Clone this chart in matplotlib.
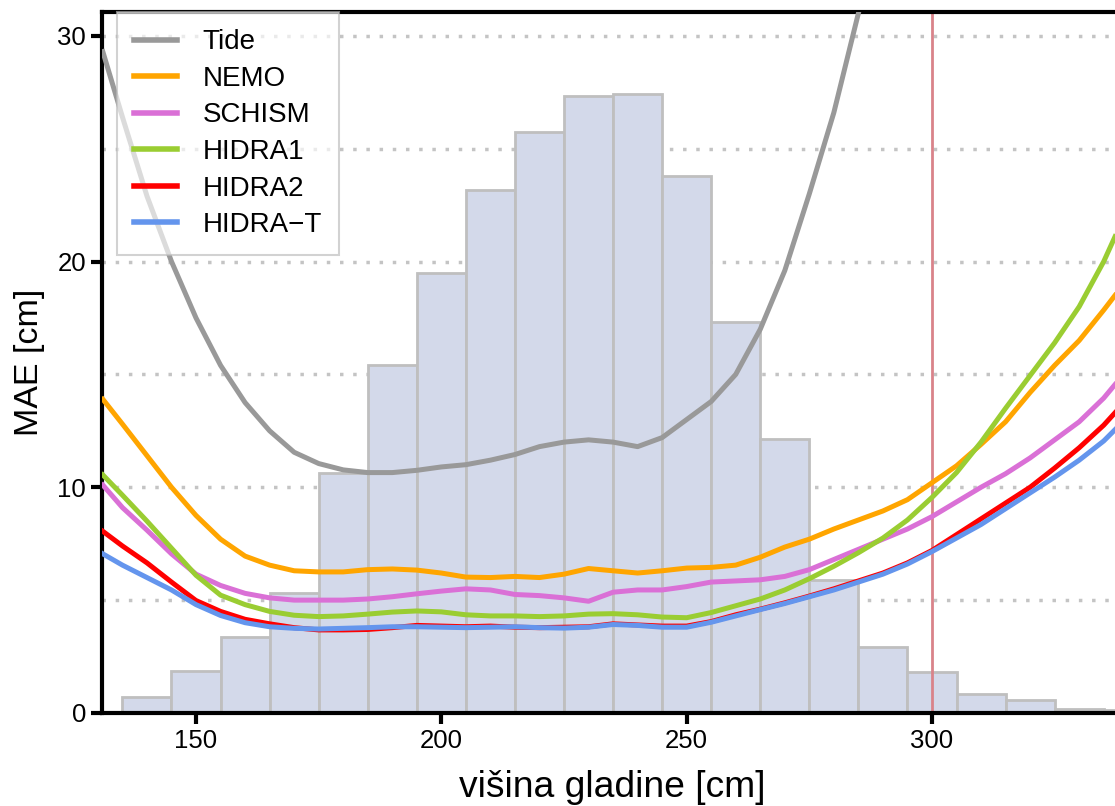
import numpy as np
import matplotlib.pyplot as plt

plt.rcParams['font.family'] = ['Liberation Sans', 'DejaVu Sans']

# histogram of observed sea levels (10 cm bins, left edges)
bin_left = [135, 145, 155, 165, 175, 185, 195, 205, 215, 225, 235,
            245, 255, 265, 275, 285, 295, 305, 315, 325, 335]
bin_height = [0.70, 1.87, 3.38, 5.30, 10.62, 15.42, 19.51, 23.15, 25.76, 27.34, 27.40,
              23.81, 17.30, 12.14, 5.89, 2.91, 1.80, 0.84, 0.58, 0.16, 0.13]

# MAE curves vs. sea level
level = [131, 135, 140, 145, 150, 155, 160, 165, 170, 175, 180, 185, 190, 195,
         200, 205, 210, 215, 220, 225, 230, 235, 240, 245, 250, 255, 260, 265,
         270, 275, 280, 285, 290, 295, 300, 305, 310, 315, 320, 325, 330, 335, 337.3]

tide_level = level[:32]
tide = [29.3, 26.4, 22.9, 20.0, 17.5, 15.4, 13.75, 12.5, 11.55, 11.05, 10.77, 10.65,
        10.65, 10.75, 10.9, 11.0, 11.2, 11.45, 11.8, 12.0, 12.1, 12.0, 11.8, 12.2,
        13.0, 13.8, 15.0, 17.0, 19.6, 23.0, 26.6, 31.0]

nemo = [13.9, 12.8, 11.4, 10.0, 8.75, 7.7, 6.95, 6.55, 6.3, 6.25, 6.25, 6.35, 6.38,
        6.33, 6.2, 6.02, 6.0, 6.05, 6.0, 6.15, 6.4, 6.3, 6.2, 6.3, 6.42, 6.45, 6.55,
        6.9, 7.35, 7.7, 8.15, 8.55, 8.95, 9.45, 10.2, 10.95, 11.9, 12.9, 14.2, 15.4,
        16.5, 17.85, 18.5]

schism = [10.1, 9.1, 8.1, 7.05, 6.15, 5.65, 5.3, 5.1, 5.0, 5.0, 5.0, 5.05, 5.15,
          5.28, 5.4, 5.5, 5.45, 5.25, 5.2, 5.1, 4.95, 5.35, 5.45, 5.45, 5.6, 5.8,
          5.85, 5.9, 6.05, 6.35, 6.8, 7.25, 7.7, 8.15, 8.7, 9.35, 10.0, 10.6, 11.3,
          12.1, 12.9, 13.95, 14.55]

hidra1 = [10.55, 9.65, 8.5, 7.3, 6.1, 5.22, 4.8, 4.5, 4.33, 4.27, 4.3, 4.38, 4.47,
          4.52, 4.48, 4.35, 4.3, 4.3, 4.27, 4.3, 4.38, 4.4, 4.35, 4.25, 4.22, 4.45,
          4.75, 5.05, 5.45, 5.95, 6.5, 7.1, 7.75, 8.55, 9.55, 10.65, 12.0, 13.5, 14.95,
          16.4, 18.0, 20.0, 21.1]

hidra2 = [8.05, 7.4, 6.65, 5.8, 4.98, 4.5, 4.15, 3.95, 3.78, 3.68, 3.68, 3.7, 3.78,
          3.88, 3.85, 3.82, 3.85, 3.8, 3.78, 3.8, 3.82, 3.95, 3.9, 3.85, 3.85, 4.05,
          4.35, 4.6, 4.88, 5.18, 5.5, 5.85, 6.2, 6.65, 7.2, 7.9, 8.6, 9.3, 10.0, 10.85,
          11.75, 12.75, 13.3]

hidra_t = [7.05, 6.55, 6.0, 5.45, 4.8, 4.32, 4.0, 3.82, 3.75, 3.72, 3.75, 3.78, 3.82,
           3.82, 3.8, 3.78, 3.8, 3.82, 3.78, 3.76, 3.8, 3.92, 3.88, 3.8, 3.8, 4.02,
           4.3, 4.58, 4.85, 5.15, 5.45, 5.8, 6.15, 6.6, 7.15, 7.75, 8.35, 9.05, 9.75,
           10.45, 11.2, 12.05, 12.55]

threshold = 300

fig = plt.figure(figsize=(11.15, 8.06), dpi=100)
ax = fig.add_axes([0.0915, 0.1154, 0.9085, 0.8696])

# dotted horizontal grid every 5 cm, behind the histogram
for g in range(5, 35, 5):
    ax.axhline(g, color='#c4c4c4', lw=2.5, ls=(0, (1, 2.8)), zorder=0)

ax.bar(bin_left, bin_height, width=10, align='edge', color='#d3d9ea',
       edgecolor='#bfbfbf', linewidth=2, zorder=1)

ax.axvline(threshold, color='#d9838a', lw=2, zorder=2)

ax.plot(tide_level, tide, color='#999999', lw=3.6, label='Tide', zorder=3)
ax.plot(level, nemo, color='#ffa500', lw=3.6, label='NEMO', zorder=3)
ax.plot(level, schism, color='#da70d6', lw=3.6, label='SCHISM', zorder=3)
ax.plot(level, hidra1, color='#9acd32', lw=3.6, label='HIDRA1', zorder=3)
ax.plot(level, hidra2, color='#ff0000', lw=3.6, label='HIDRA2', zorder=3)
ax.plot(level, hidra_t, color='#6495ed', lw=3.6, label='HIDRA\u2212T', zorder=3)

ax.set_xlim(130.84, 337.3)
ax.set_ylim(0, 31.05)
ax.set_xticks([150, 200, 250, 300])
ax.set_yticks([0, 10, 20, 30])
ax.tick_params(axis='both', labelsize=18.5, width=3, length=8, color='black')

for side in ['left', 'bottom', 'top']:
    ax.spines[side].set_linewidth(3)
ax.spines['right'].set_visible(False)

ax.set_xlabel('višina gladine [cm]', fontsize=26.8, labelpad=12)
ax.xaxis.label.set_x(0.504)
ax.set_ylabel('MAE [cm]', fontsize=24.5, labelpad=8.5)

leg = ax.legend(loc='upper left', bbox_to_anchor=(0.0148, 1.0), fontsize=20,
                frameon=True, fancybox=False, framealpha=0.65, edgecolor='#bbbbbb',
                handlelength=1.55, handletextpad=0.9, labelspacing=0.38,
                borderpad=0.62, borderaxespad=0)
leg.get_frame().set_linewidth(1.5)
for line in leg.get_lines():
    line.set_linewidth(4)

fig.savefig('out.png', dpi=100)
